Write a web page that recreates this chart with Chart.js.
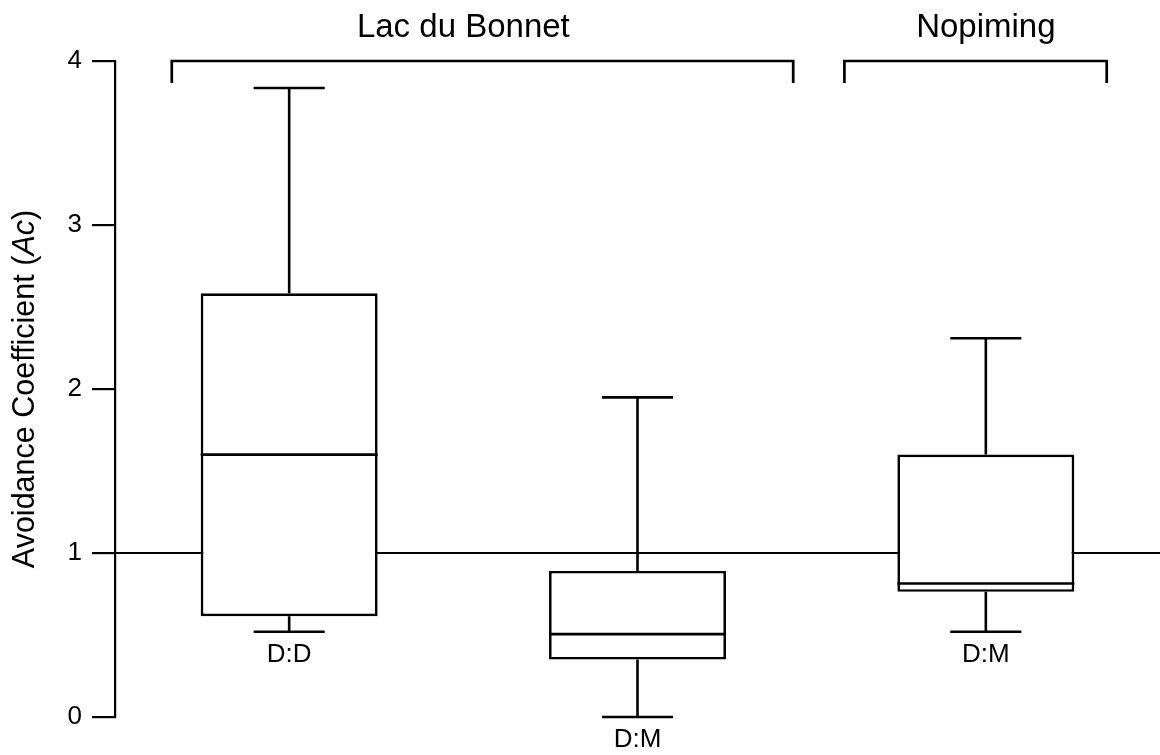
<!DOCTYPE html>
<html>
<head>
<meta charset="utf-8">
<script src="https://cdn.jsdelivr.net/npm/chart.js@4/dist/chart.umd.min.js"></script>
<style>
  html, body { margin: 0; padding: 0; background: #fff; }
  #wrap { width: 1160px; height: 755px; position: relative; }
</style>
</head>
<body>
<div id="wrap"><canvas id="chart"></canvas></div>
<script>
// Avoidance coefficient summaries per pairing (box-and-whisker statistics)
const categories  = ['D:D', 'D:M', 'D:M'];
const whiskerLow  = [0.52, 0.00, 0.52];
const quartile1   = [0.615, 0.35, 0.763];
const medians     = [1.60, 0.505, 0.814];
const quartile3   = [2.584, 0.891, 1.601];
const whiskerHigh = [3.835, 1.949, 2.309];

// Site groupings shown as brackets above the boxes (positions in box units, first box = 1)
const groupLabels = ['Lac du Bonnet', 'Nopiming'];
const groupStart  = [0.663, 2.594];
const groupEnd    = [2.447, 3.347];
const groupCentre = [1.5, 3.0];

const yTicks = [0, 1, 2, 3, 4];
const referenceLevel = 1;

const FONT = '"Liberation Sans", Arial, Helvetica, sans-serif';

function unitToPixel(xs, u) {
  const p0 = xs.getPixelForValue(0);
  const p1 = xs.getPixelForValue(1);
  return p0 + (u - 1) * (p1 - p0);
}

const boxPlotExtras = {
  id: 'boxPlotExtras',
  beforeDatasetsDraw(chart) {
    const { ctx, chartArea, scales: { y } } = chart;
    const yy = y.getPixelForValue(referenceLevel);
    ctx.save();
    ctx.strokeStyle = '#000';
    ctx.lineWidth = 2.2;
    ctx.beginPath();
    ctx.moveTo(chartArea.left, yy);
    ctx.lineTo(chartArea.right, yy);
    ctx.stroke();
    ctx.restore();
  },
  afterDatasetsDraw(chart) {
    const { ctx, chartArea, scales: { x, y } } = chart;
    const meta = chart.getDatasetMeta(0);
    const step = x.getPixelForValue(1) - x.getPixelForValue(0);
    const capHalf = step * 0.102;
    ctx.save();
    ctx.strokeStyle = '#000';
    ctx.fillStyle = '#000';
    ctx.lineCap = 'butt';

    categories.forEach((cat, i) => {
      const cx = x.getPixelForValue(i);
      const half = meta.data[i].width / 2;
      const yLo = y.getPixelForValue(whiskerLow[i]);
      const yQ1 = y.getPixelForValue(quartile1[i]);
      const yMed = y.getPixelForValue(medians[i]);
      const yQ3 = y.getPixelForValue(quartile3[i]);
      const yHi = y.getPixelForValue(whiskerHigh[i]);

      ctx.lineWidth = 2.6;
      ctx.beginPath();
      ctx.moveTo(cx, yQ3); ctx.lineTo(cx, yHi);
      ctx.moveTo(cx - capHalf, yHi); ctx.lineTo(cx + capHalf, yHi);
      ctx.moveTo(cx, yQ1); ctx.lineTo(cx, yLo);
      ctx.moveTo(cx - capHalf, yLo); ctx.lineTo(cx + capHalf, yLo);
      ctx.stroke();

      ctx.lineWidth = 2.7;
      ctx.beginPath();
      ctx.moveTo(cx - half, yMed); ctx.lineTo(cx + half, yMed);
      ctx.stroke();

      ctx.font = '26px ' + FONT;
      ctx.textAlign = 'center';
      ctx.textBaseline = 'middle';
      ctx.fillText(cat, cx, yLo + 23);
    });

    // group brackets and their titles
    const yTop = y.getPixelForValue(yTicks[yTicks.length - 1]);
    ctx.lineWidth = 2.7;
    groupLabels.forEach((g, i) => {
      const xa = unitToPixel(x, groupStart[i]);
      const xb = unitToPixel(x, groupEnd[i]);
      ctx.beginPath();
      ctx.moveTo(xa, yTop + 22);
      ctx.lineTo(xa, yTop);
      ctx.lineTo(xb, yTop);
      ctx.lineTo(xb, yTop + 22);
      ctx.stroke();
      ctx.font = '33px ' + FONT;
      ctx.textAlign = 'center';
      ctx.textBaseline = 'alphabetic';
      ctx.fillText(g, unitToPixel(x, groupCentre[i]), yTop - 24.5);
    });

    // y-axis title with italic symbol
    const parts = [
      { t: 'Avoidance Coefficient (', f: '30.5px ' + FONT },
      { t: 'Ac', f: 'italic 30.5px ' + FONT },
      { t: ')', f: '30.5px ' + FONT }
    ];
    let total = 0;
    parts.forEach(p => { ctx.font = p.f; p.w = ctx.measureText(p.t).width; total += p.w; });
    ctx.translate(33.5, (chartArea.top + chartArea.bottom) / 2);
    ctx.rotate(-Math.PI / 2);
    ctx.textAlign = 'left';
    ctx.textBaseline = 'alphabetic';
    let pos = -total / 2;
    parts.forEach(p => { ctx.font = p.f; ctx.fillText(p.t, pos, 0); pos += p.w; });
    ctx.restore();
  }
};

new Chart(document.getElementById('chart'), {
  type: 'bar',
  data: {
    labels: categories,
    datasets: [{
      data: categories.map((_, i) => [quartile1[i], quartile3[i]]),
      backgroundColor: '#ffffff',
      borderColor: '#000000',
      borderWidth: 2.7,
      borderSkipped: false,
      categoryPercentage: 1,
      barPercentage: 0.508
    }]
  },
  options: {
    responsive: true,
    maintainAspectRatio: false,
    animation: false,
    events: [],
    layout: { padding: { top: 61, bottom: 38, left: 0, right: 0 } },
    plugins: { legend: { display: false }, tooltip: { enabled: false } },
    scales: {
      x: { type: 'category', display: false, offset: true },
      y: {
        type: 'linear',
        min: yTicks[0],
        max: yTicks[yTicks.length - 1],
        afterBuildTicks: s => { s.ticks = yTicks.map(v => ({ value: v })); },
        afterFit: s => { s.width = 115; },
        ticks: { color: '#000', font: { family: FONT, size: 26 }, padding: 10 },
        grid: { drawOnChartArea: false, drawTicks: true, tickLength: 23, color: '#000', lineWidth: 2.2 },
        border: { display: true, color: '#000', width: 2.2 },
        title: { display: false }
      }
    }
  },
  plugins: [boxPlotExtras]
});
</script>
</body>
</html>
